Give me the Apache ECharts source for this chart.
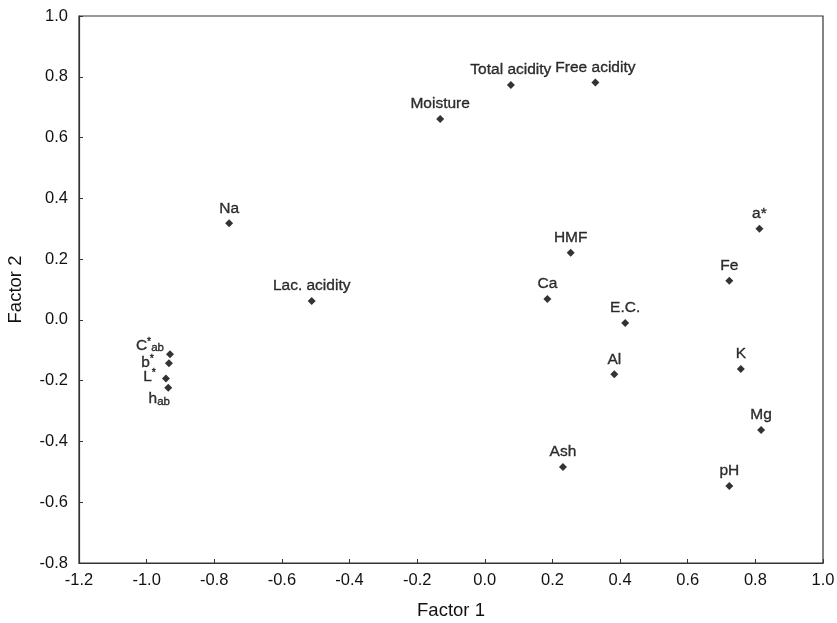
<!DOCTYPE html>
<html>
<head>
<meta charset="utf-8">
<script src="https://cdn.jsdelivr.net/npm/echarts@6/dist/echarts.min.js"></script>
<style>
  html, body { margin: 0; padding: 0; background: #fff; }
  #main { width: 837px; height: 623px; }
</style>
</head>
<body>
<div id="main"></div>
<script>
// variable names and their loadings on the two factors
var names = ['Total acidity', 'Free acidity', 'Moisture', 'Na', 'Lac. acidity', 'HMF', 'Ca', 'E.C.', 'Al', 'Ash',
  'a*', 'Fe', 'K', 'Mg', 'pH', 'C*ab', 'b*', 'L*', 'hab'];
var factor1 = [0.077, 0.327, -0.132, -0.756, -0.512, 0.254, 0.185, 0.415, 0.383, 0.231,
  0.812, 0.723, 0.757, 0.817, 0.723, -0.931, -0.934, -0.943, -0.936];
var factor2 = [0.773, 0.781, 0.661, 0.318, 0.062, 0.221, 0.069, -0.010, -0.179, -0.484,
  0.300, 0.129, -0.162, -0.362, -0.547, -0.113, -0.143, -0.193, -0.223];
var xTicks = { min: -1.2, max: 1.0, step: 0.2 };
var yTicks = { min: -0.8, max: 1.0, step: 0.2 };

// labels for the colour coordinates need super/subscripts
var richLabels = {
  'C*ab': '{n|C}{sup|*}{sub|ab}',
  'b*': '{n|b}{sup|*}',
  'L*': '{n|L}{sup|*}',
  'hab': '{n|h}{sub|ab}'
};
var labelPlace = {
  'C*ab': { position: 'left', distance: 2, offset: [0, -9] },
  'b*': { position: 'left', distance: 11, offset: [0, -1] },
  'L*': { position: 'left', distance: 6, offset: [0, -2] },
  'hab': { position: 'bottom', distance: -1, offset: [-9, 0] }
};

var ink = { color: '#000', fontFamily: 'Liberation Sans', textBorderColor: '#000', textBorderWidth: 0.35, lineHeight: 17 };
var rich = {
  n: Object.assign({ fontSize: 15.5, verticalAlign: 'middle' }, ink),
  sup: Object.assign({ fontSize: 10.5, verticalAlign: 'top' }, ink),
  sub: Object.assign({ fontSize: 11.5, verticalAlign: 'bottom', padding: [6, 0, 0, 0] }, ink)
};

var points = names.map(function (n, i) {
  var item = { name: n, value: [factor1[i], factor2[i]] };
  if (richLabels[n]) {
    var p = labelPlace[n];
    item.label = { position: p.position, distance: p.distance, offset: p.offset, formatter: richLabels[n], rich: rich };
  }
  return item;
});

var chart = echarts.init(document.getElementById('main'));
var option = {
  backgroundColor: '#fff',
  animation: false,
  grid: {
    left: 79, right: 14, top: 16, bottom: 60,
    outerBoundsMode: 'none', containLabel: false,
    show: true, borderColor: '#333', borderWidth: 1.2, backgroundColor: 'transparent'
  },
  xAxis: {
    type: 'value',
    min: xTicks.min, max: xTicks.max, interval: xTicks.step,
    name: 'Factor 1', nameLocation: 'middle', nameGap: 38,
    nameTextStyle: { fontSize: 18.5, color: '#111', fontFamily: 'Liberation Sans' },
    axisLine: { show: true, onZero: false, lineStyle: { color: '#333', width: 1.2 } },
    axisTick: { show: true, inside: true, length: 4, lineStyle: { color: '#333' } },
    splitLine: { show: false },
    axisLabel: {
      fontSize: 16.5, color: '#111', fontFamily: 'Liberation Sans', margin: 9,
      formatter: function (v) { return v.toFixed(1); }
    }
  },
  yAxis: {
    type: 'value',
    min: yTicks.min, max: yTicks.max, interval: yTicks.step,
    name: 'Factor 2', nameLocation: 'middle', nameGap: 54,
    nameTextStyle: { fontSize: 18.5, color: '#111', fontFamily: 'Liberation Sans' },
    axisLine: { show: true, onZero: false, lineStyle: { color: '#333', width: 1.2 } },
    axisTick: { show: true, inside: true, length: 4, lineStyle: { color: '#333' } },
    splitLine: { show: false },
    axisLabel: {
      fontSize: 16.5, color: '#111', fontFamily: 'Liberation Sans', margin: 11,
      formatter: function (v) { return v.toFixed(1); }
    }
  },
  series: [{
    type: 'scatter',
    symbol: 'diamond',
    symbolSize: 8,
    itemStyle: { color: '#000' },
    data: points,
    label: {
      show: true,
      position: 'top',
      distance: 3,
      fontSize: 15.5,
      color: '#000',
      textBorderColor: '#000',
      textBorderWidth: 0.35,
      fontFamily: 'Liberation Sans',
      formatter: '{b}'
    }
  }]
};
chart.setOption(option);
</script>
</body>
</html>
